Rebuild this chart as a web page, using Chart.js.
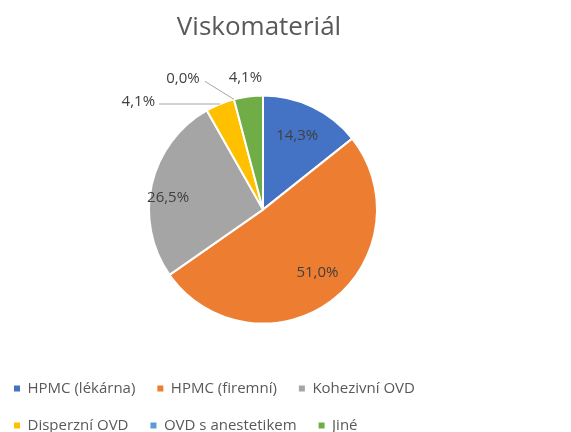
<!DOCTYPE html>
<html>
<head>
<meta charset="utf-8">
<script src="https://cdn.jsdelivr.net/npm/chart.js@4/dist/chart.umd.min.js"></script>
<style>
  html, body { margin: 0; padding: 0; background: #ffffff; }
  #wrap { width: 571px; height: 432px; }
</style>
</head>
<body>
<div id="wrap"><canvas id="c" width="571" height="432"></canvas></div>
<script>
const chartTitle = 'Viskomateriál';
const categories = ['HPMC (lékárna)', 'HPMC (firemní)', 'Kohezivní OVD', 'Disperzní OVD', 'OVD s anestetikem', 'Jiné'];
const shares = [14.3, 51.0, 26.5, 4.1, 0.0, 4.1];
const sliceColors = ['#4472C4', '#ED7D31', '#A5A5A5', '#FFC000', '#5B9BD5', '#70AD47'];

// label placement relative to each slice (library-computed arc geometry)
const labelPlacement = [
  { mode: 'in', k: 0.75, dx: -3, dy: 3 },
  { mode: 'in', k: 0.74, dx: 4, dy: -4 },
  { mode: 'in', k: 0.8, dx: -6, dy: 8 },
  { mode: 'out', dx: -65, dy: -2, align: 'right', leader: [4, 2] },
  { mode: 'out', dx: -51, dy: -21, align: 'center', leader: [22, 3] },
  { mode: 'out', dx: -3, dy: -19, align: 'center', leader: null }
];

const fmt = v => v.toFixed(1).replace('.', ',') + '%';

const sliceLabels = {
  id: 'sliceLabels',
  afterDatasetsDraw(chart) {
    const ctx = chart.ctx;
    const meta = chart.getDatasetMeta(0);
    ctx.save();
    ctx.font = '15px "Open Sans"';
    ctx.fillStyle = '#404040';
    ctx.textBaseline = 'middle';
    meta.data.forEach((arc, i) => {
      const p = arc.getProps(['x', 'y', 'startAngle', 'endAngle', 'outerRadius'], true);
      const mid = (p.startAngle + p.endAngle) / 2;
      const pl = labelPlacement[i];
      const text = fmt(shares[i]);
      if (pl.mode === 'in') {
        const lx = p.x + Math.cos(mid) * p.outerRadius * pl.k + pl.dx;
        const ly = p.y + Math.sin(mid) * p.outerRadius * pl.k + pl.dy;
        ctx.textAlign = 'center';
        ctx.fillText(text, lx, ly);
      } else {
        const ax = p.x + Math.cos(mid) * p.outerRadius;
        const ay = p.y + Math.sin(mid) * p.outerRadius;
        const lx = ax + pl.dx;
        const ly = ay + pl.dy;
        if (pl.leader) {
          ctx.beginPath();
          ctx.strokeStyle = '#A6A6A6';
          ctx.lineWidth = 1;
          ctx.moveTo(ax, ay);
          ctx.lineTo(lx + pl.leader[0], ly + pl.leader[1]);
          ctx.stroke();
        }
        ctx.textAlign = pl.align;
        ctx.fillText(text, lx, ly);
      }
    });
    ctx.restore();
  }
};

new Chart(document.getElementById('c'), {
  type: 'pie',
  data: {
    labels: categories,
    datasets: [{
      data: shares,
      backgroundColor: sliceColors,
      borderColor: '#ffffff',
      borderWidth: 2,
      radius: 114
    }]
  },
  options: {
    responsive: false,
    animation: false,
    layout: { padding: { left: -8, right: 45, top: 0, bottom: -11 } },
    plugins: {
      tooltip: { enabled: false },
      title: {
        display: true,
        text: chartTitle,
        color: '#595959',
        font: { family: 'Open Sans', size: 26, weight: 'normal' },
        padding: { top: 12, bottom: 17 }
      },
      legend: {
        position: 'bottom',
        align: 'start',
        labels: {
          color: '#595959',
          font: { family: 'Open Sans', size: 15 },
          boxWidth: 6,
          boxHeight: 6,
          padding: 22,
          generateLabels(chart) {
            const items = Chart.overrides.pie.plugins.legend.labels.generateLabels(chart);
            items.forEach(it => { it.lineWidth = 0; it.hidden = false; });
            return items;
          }
        }
      }
    }
  },
  plugins: [sliceLabels]
});
</script>
</body>
</html>
